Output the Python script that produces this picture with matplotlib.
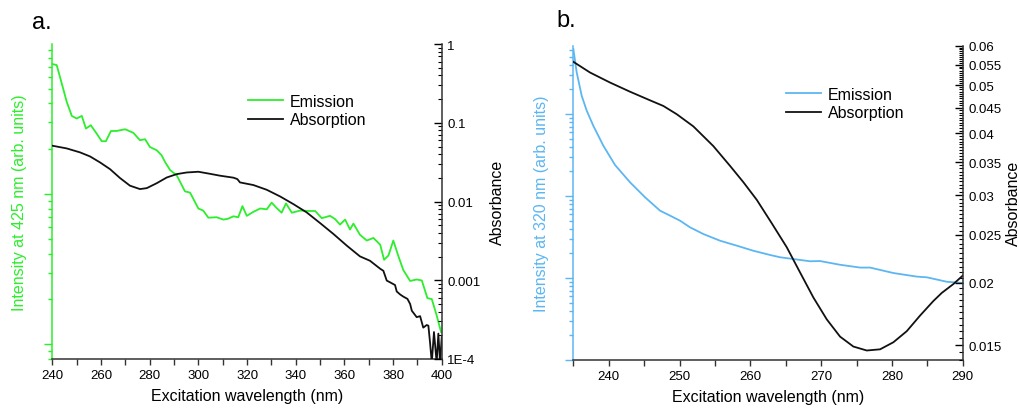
import matplotlib
matplotlib.use("Agg")
import matplotlib.pyplot as plt
from matplotlib.ticker import (FixedLocator, FuncFormatter, LogLocator,
                               MultipleLocator, NullFormatter)

plt.rcParams["font.family"] = ["Liberation Sans", "DejaVu Sans"]

GREEN, BLUE, BLACK = "#2cee2c", "#5cb6f2", "#111111"

# --- panel a: excitation scan, emission at 425 nm -------------------------
a_em_wl = [240, 241.8, 243.2, 244.5, 245.9, 248, 250, 252.1, 253.8, 255.8,
           258.2, 260.3, 262, 264.1, 266.4, 269.9, 273.3, 276, 278.1, 280.1,
           282.9, 284.9, 286.3, 288.4, 291.1, 294.5, 296.6, 300, 302, 304.1,
           307.5, 310.3, 312.3, 314.4, 316.4, 318.1, 319.9, 322.6, 325.4, 328.1,
           330.1, 332.2, 334.2, 336, 338.4, 341.8, 345.9, 348, 350.7, 354.1,
           356.2, 358.2, 360.3, 362.3, 363.7, 366.4, 369.2, 371.9, 374.7, 376.3,
           378.1, 380.1, 382.2, 384.2, 387, 389.7, 391.8, 394.1, 395.9, 397.9,
           399.7]
a_em = [7300, 7180, 5940, 4975, 4100, 3300, 3170, 3300, 2720, 2860,
        2520, 2240, 2240, 2620, 2620, 2690, 2545, 2275, 2310, 2050,
        1950, 1805, 1630, 1440, 1330, 1040, 1020, 800, 775, 695,
        700, 675, 685, 710, 700, 830, 715, 760, 800, 790,
        875, 805, 750, 865, 750, 775, 770, 770, 690, 715,
        680, 625, 675, 580, 635, 535, 490, 510, 460, 365,
        390, 490, 385, 312, 264, 270, 266, 203, 200, 156,
        121]

a_abs_wl = [240, 245.9, 251.4, 255.5, 259.6, 263.7, 267.8, 271.9, 276, 278.8,
            282.9, 287, 291.1, 295.2, 300, 304.8, 308.9, 314.4, 316, 317.1,
            322.6, 328.1, 333.6, 339, 344.5, 350, 355.5, 361, 366.4, 370.5,
            374.7, 376, 377.4, 378.8, 380.8, 381.5, 382.9, 384.2, 385.9, 387,
            387.7, 389.7, 391.1, 392.4, 393.8, 394.5, 395.2, 395.9, 396.8, 397.9,
            398.6, 399.3, 400]
a_abs = [0.0512, 0.0473, 0.0421, 0.0374, 0.0314, 0.0258, 0.0199, 0.0159, 0.0144, 0.0148,
         0.0171, 0.0202, 0.0223, 0.0234, 0.0239, 0.0225, 0.0213, 0.0201, 0.0193, 0.0175,
         0.0162, 0.0141, 0.0116, 0.00929, 0.00728, 0.00533, 0.00387, 0.00275, 0.00201, 0.00177,
         0.00140, 0.00132, 0.00099, 0.00094, 0.00087, 0.00072, 0.00066, 0.00062, 0.00058, 0.00050,
         0.00041, 0.00034, 0.00035, 0.00025, 0.00027, 0.000265, 0.00016, 0.00009, 0.00022, 0.00009,
         0.00021, 0.00009, 0.00019]

# --- panel b: excitation scan, emission at 320 nm -------------------------
b_em_wl = [235.0, 235.47, 236.18, 236.89, 237.82, 239.24, 240.89, 243.01, 245.13, 247.25,
           248.66, 250.07, 251.48, 253.36, 255.72, 258.08, 260.42, 262.78, 264.2, 268.44,
           269.85, 272.67, 275.5, 276.91, 280.2, 283.5, 284.91, 287.74, 290.0]
b_em = [62100, 32300, 16700, 10970, 7190, 4100, 2388, 1469, 964, 662,
        576, 500, 415, 344, 285, 248, 215, 191, 179, 160,
        161, 145, 134, 134, 115, 104, 102, 90, 87]

b_abs_wl = [235.0, 237.36, 240.18, 243.0, 245.83, 247.71, 249.6, 251.95, 254.77, 257.13,
            259.01, 260.9, 263.0, 265.14, 267.02, 268.9, 270.79, 272.67, 274.55, 276.44,
            278.32, 280.2, 282.09, 283.97, 285.85, 287.03, 288.67, 290.0]
b_abs = [0.0557, 0.0530, 0.0506, 0.0485, 0.0466, 0.0454, 0.0437, 0.0413, 0.0377, 0.0344,
         0.0319, 0.0294, 0.0264, 0.0236, 0.0210, 0.0187, 0.0169, 0.0156, 0.0149, 0.01463,
         0.01471, 0.0152, 0.0160, 0.0172, 0.0184, 0.0191, 0.0199, 0.0207]

a_abs_ticks = [1e-4, 1e-3, 1e-2, 1e-1, 1]
a_abs_labels = ["1E-4", "0.001", "0.01", "0.1", "1"]
b_abs_ticks = [0.015, 0.02, 0.025, 0.03, 0.035, 0.04, 0.045, 0.05, 0.055, 0.06]

LABEL_FS, TICK_FS, LEG_FS = 11.5, 9.5, 11.5


def _style_panel(ax, ax2, color):
    ax.spines["top"].set_visible(False)
    ax2.spines["top"].set_visible(False)
    ax2.spines["left"].set_visible(False)
    ax2.spines["bottom"].set_visible(False)
    ax.spines["right"].set_visible(False)
    ax.spines["left"].set_color(color)
    ax.spines["left"].set_linewidth(1.1)
    ax.spines["bottom"].set_color("#333333")
    ax.spines["bottom"].set_linewidth(1.1)
    ax2.spines["right"].set_color("#333333")
    ax2.spines["right"].set_linewidth(1.1)

    ax.tick_params(axis="y", which="major", direction="out", length=6, width=1,
                   color=color, labelleft=False)
    ax.tick_params(axis="y", which="minor", direction="out", length=3, width=1,
                   color=color)
    ax.yaxis.set_major_formatter(NullFormatter())
    ax.yaxis.set_minor_formatter(NullFormatter())
    ax.tick_params(axis="x", which="major", direction="out", length=4, width=1,
                   color="#333333", labelsize=TICK_FS, pad=3)
    ax.tick_params(axis="x", which="minor", direction="out", length=4, width=1,
                   color="#333333")
    ax2.tick_params(axis="y", which="major", direction="in", length=6, width=1,
                    labelsize=TICK_FS, pad=4)
    ax2.tick_params(axis="y", which="minor", direction="in", length=3, width=0.8)
    ax2.yaxis.set_minor_formatter(NullFormatter())


def _legend(ax2, handles, x_px, y_px):
    ax2.legend(handles, ["Emission", "Absorption"], loc="upper left",
               bbox_to_anchor=(x_px / 1020, 1 - y_px / 410),
               bbox_transform=ax2.figure.transFigure, frameon=False,
               fontsize=LEG_FS, handlelength=2.2, handletextpad=0.4,
               labelspacing=0.2, borderpad=0, borderaxespad=0)


fig = plt.figure(figsize=(10.2, 4.1), dpi=100)

# panel a
ax_a = fig.add_axes([0.0513, 0.122, 0.3818, 0.768])
ax_a2 = ax_a.twinx()
ax_a.set_yscale("log")
ax_a2.set_yscale("log")
em_a, = ax_a.plot(a_em_wl, a_em, color=GREEN, lw=1.3)
abs_a, = ax_a2.plot(a_abs_wl, a_abs, color=BLACK, lw=1.3)
ax_a.set_xlim(240, 400)
ax_a.set_ylim(80, 9900)
ax_a2.set_ylim(1e-4, 1)
ax_a.xaxis.set_major_locator(MultipleLocator(20))
ax_a.xaxis.set_minor_locator(MultipleLocator(10))
ax_a.yaxis.set_minor_locator(LogLocator(base=10, subs=range(2, 10)))
ax_a2.yaxis.set_major_locator(FixedLocator(a_abs_ticks))
ax_a2.yaxis.set_major_formatter(FuncFormatter(
    lambda v, p: a_abs_labels[min(range(len(a_abs_ticks)),
                                  key=lambda i: abs(a_abs_ticks[i] - v))]))
ax_a2.yaxis.set_minor_locator(LogLocator(base=10, subs=range(2, 10)))
_style_panel(ax_a, ax_a2, GREEN)
ax_a.set_xlabel("Excitation wavelength (nm)", fontsize=LABEL_FS, labelpad=5)
ax_a.set_ylabel("Intensity at 425 nm (arb. units)", fontsize=LABEL_FS,
                color=GREEN, labelpad=12)
ax_a2.set_ylabel("Absorbance", fontsize=LABEL_FS, labelpad=7)
_legend(ax_a2, [em_a, abs_a], 248, 95)

# panel b
ax_b = fig.add_axes([0.5621, 0.1195, 0.3818, 0.7665])
ax_b2 = ax_b.twinx()
ax_b.set_yscale("log")
ax_b2.set_yscale("log")
em_b, = ax_b.plot(b_em_wl, b_em, color=BLUE, lw=1.3)
abs_b, = ax_b2.plot(b_abs_wl, b_abs, color=BLACK, lw=1.3)
ax_b.set_xlim(235, 290)
ax_b.set_ylim(10, 68000)
ax_b2.set_ylim(0.014, 0.06)
ax_b.xaxis.set_major_locator(FixedLocator([240, 250, 260, 270, 280, 290]))
ax_b.xaxis.set_minor_locator(MultipleLocator(5))
ax_b.yaxis.set_minor_locator(LogLocator(base=10, subs=range(2, 10)))
ax_b2.yaxis.set_major_locator(FixedLocator(b_abs_ticks))
ax_b2.yaxis.set_major_formatter(FuncFormatter(lambda v, p: f"{v:g}"))
ax_b2.yaxis.set_minor_locator(MultipleLocator(0.0005))
_style_panel(ax_b, ax_b2, BLUE)
ax_b.set_xlabel("Excitation wavelength (nm)", fontsize=LABEL_FS, labelpad=5)
ax_b.set_ylabel("Intensity at 320 nm (arb. units)", fontsize=LABEL_FS,
                color=BLUE, labelpad=11)
ax_b2.set_ylabel("Absorbance", fontsize=LABEL_FS, labelpad=3)
_legend(ax_b2, [em_b, abs_b], 786, 88)

fig.text(32 / 1020, 1 - 23 / 410, "a.", fontsize=17, va="center")
fig.text(556 / 1020, 1 - 21 / 410, "b.", fontsize=17, va="center")

fig.savefig("out.png", dpi=100)
